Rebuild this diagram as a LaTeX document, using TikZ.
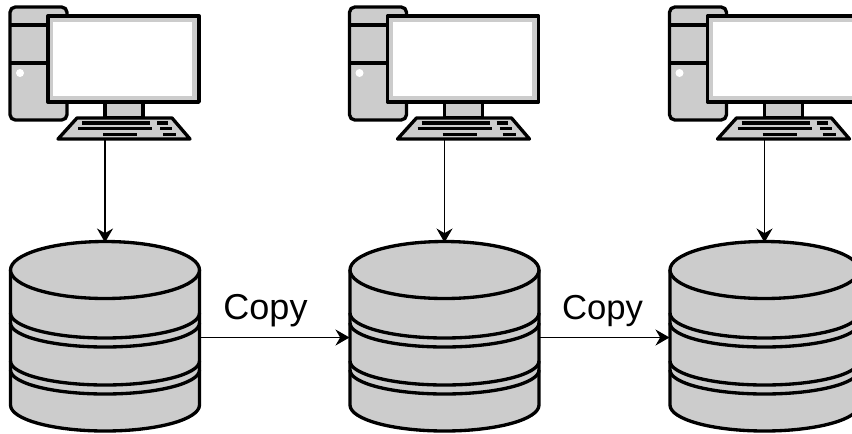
\documentclass[tikz,border=0pt]{standalone}
\usepackage{fontspec}
\setmainfont{Liberation Sans}
\usetikzlibrary{arrows.meta}

\definecolor{partgray}{RGB}{204,204,204}

\tikzset{
	every picture/.style={line width=0.75pt},
	outline/.style={line width=2.5pt,draw=black,fill=partgray,line join=round},
	keyrow/.style={line width=2.5pt,draw=black},
	anchorbox/.style={inner sep=0pt,outer sep=0pt},
	link/.style={line width=1.2pt,-{Stealth[length=10.5pt,width=12pt,inset=3.5pt]}},
	copylabel/.style={inner sep=0pt},
}

\newcommand{\drawcomputer}[1]{
	\begin{scope}[shift={(#1,0)}]
		%Tower
		\draw [outline,rounded corners=4pt] (10,7) rectangle (67,120);
		\draw [keyrow] (10,25) -- (67,25);
		\draw [keyrow] (10,63) -- (67,63);
		\fill [white] (20,73) circle [radius=4];
		%Monitor
		\draw [outline] (48,16) rectangle (199,102);
		\fill [white] (53,22) rectangle (192,96);
		%Stand
		\draw [outline] (105,102) rectangle (143,118);
		%Keyboard
		\draw [outline] (77,118) -- (172,118) -- (190,139) -- (58,139) -- cycle;
		\draw [keyrow] (82,123) -- (150,123);
		\draw [keyrow] (157,123) -- (168,123);
		\draw [keyrow] (78,128.5) -- (152,128.5);
		\draw [keyrow] (160,128.5) -- (172,128.5);
		\draw [keyrow] (103,134.5) -- (137,134.5);
		\draw [keyrow] (163,134.5) -- (176,134.5);
	\end{scope}
}

\newcommand{\drawdatabase}[1]{
	\begin{scope}[shift={(#1,0)}]
		%Body
		\draw [outline] (10.5,270) -- (10.5,405) arc [start angle=180,end angle=0,x radius=94.5,y radius=26] -- (199.5,270);
		%Top
		\draw [outline] (105,270) ellipse [x radius=94.5,y radius=28.5];
		%Rings
		\draw [keyrow] (10.5,313) arc [start angle=180,end angle=0,x radius=94.5,y radius=25];
		\draw [keyrow] (10.5,323) arc [start angle=180,end angle=0,x radius=94.5,y radius=24];
		\draw [keyrow] (10.5,361) arc [start angle=180,end angle=0,x radius=94.5,y radius=24];
		\draw [keyrow] (10.5,370) arc [start angle=180,end angle=0,x radius=94.5,y radius=24];
	\end{scope}
}

\begin{document}
\begin{tikzpicture}[x=0.75pt,y=0.75pt,yscale=-1,xscale=1]
	\useasboundingbox (0,0) rectangle (852,433);
	\clip (0,0) rectangle (852,433);

	%Computers
	\drawcomputer{0}
	\drawcomputer{339.5}
	\drawcomputer{659.5}
	%Databases
	\drawdatabase{0}
	\drawdatabase{339.5}
	\drawdatabase{659.5}

	% Anchors
	\node [anchorbox,minimum width=142.5pt,minimum height=100pt] (pcA) at (105,73.67) {};
	\node [anchorbox,minimum width=142.5pt,minimum height=100pt] (pcB) at (444.5,73.67) {};
	\node [anchorbox,minimum width=142.5pt,minimum height=100pt] (pcC) at (764.5,73.67) {};
	\node [anchorbox,minimum width=142.5pt,minimum height=142.5pt] (dbA) at (105,337.5) {};
	\node [anchorbox,minimum width=142.5pt,minimum height=142.5pt] (dbB) at (444.5,337.5) {};
	\node [anchorbox,minimum width=142.5pt,minimum height=142.5pt] (dbC) at (764.5,337.5) {};

	%Straight Lines
	\draw [link] (pcA.south) -- (dbA.north);
	\draw [link] (pcB.south) -- (dbB.north);
	\draw [link] (pcC.south) -- (dbC.north);
	\draw [link] (dbA.east) -- (dbB.west);
	\draw [link] (dbB.east) -- (dbC.west);

	% Text Node
	\node [copylabel,font=\fontsize{27}{27}\selectfont] (copyA) at (265.5,310.5) {Copy};
	\node [copylabel,font=\fontsize{26}{26}\selectfont] (copyB) at (602.5,310.5) {Copy};
\end{tikzpicture}
\end{document}
